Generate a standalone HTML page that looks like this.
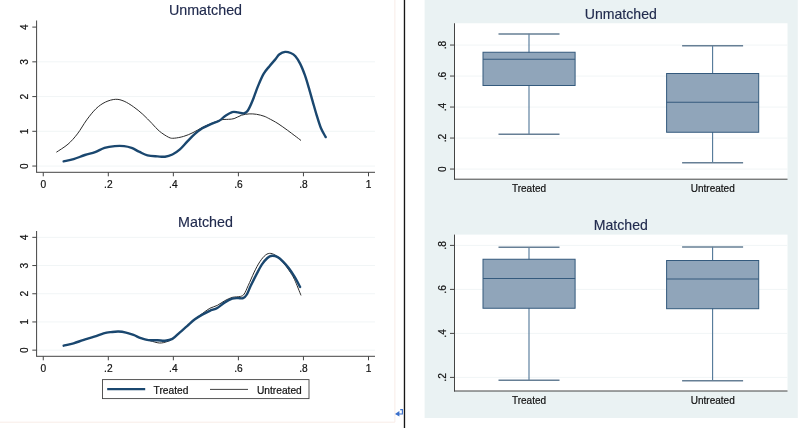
<!DOCTYPE html>
<html><head><meta charset="utf-8"><title>Unmatched Matched</title>
<style>html,body{margin:0;padding:0;background:#fff;overflow:hidden}svg{display:block}</style></head>
<body>
<svg width="800" height="428" viewBox="0 0 800 428">
<rect width="800" height="428" fill="#fff"/>
<path d="M0,422.2 H394.9 V0" fill="none" stroke="#f8ece7" stroke-width="1"/>
<rect x="403.8" y="0" width="1.35" height="428" fill="#151515"/>
<rect x="424.6" y="0" width="373.2" height="418" fill="#eaf2f3"/>
<line x1="37" y1="166.05" x2="375" y2="166.05" stroke="#f1f5f6" stroke-width="1"/>
<line x1="37" y1="131.31" x2="375" y2="131.31" stroke="#f1f5f6" stroke-width="1"/>
<line x1="37" y1="96.58" x2="375" y2="96.58" stroke="#f1f5f6" stroke-width="1"/>
<line x1="37" y1="61.84" x2="375" y2="61.84" stroke="#f1f5f6" stroke-width="1"/>
<line x1="36.6" y1="20.50" x2="36.6" y2="172.30" stroke="#444" stroke-width="1"/>
<line x1="36.1" y1="172.30" x2="375" y2="172.30" stroke="#444" stroke-width="1"/>
<line x1="32.3" y1="166.05" x2="36.6" y2="166.05" stroke="#444" stroke-width="1"/>
<text transform="translate(28,166.05) rotate(-90)" text-anchor="middle" font-size="10.2" fill="#111" stroke="#111" stroke-width="0.2" font-family="Liberation Sans, Arial, sans-serif">0</text>
<line x1="32.3" y1="131.31" x2="36.6" y2="131.31" stroke="#444" stroke-width="1"/>
<text transform="translate(28,131.31) rotate(-90)" text-anchor="middle" font-size="10.2" fill="#111" stroke="#111" stroke-width="0.2" font-family="Liberation Sans, Arial, sans-serif">1</text>
<line x1="32.3" y1="96.58" x2="36.6" y2="96.58" stroke="#444" stroke-width="1"/>
<text transform="translate(28,96.58) rotate(-90)" text-anchor="middle" font-size="10.2" fill="#111" stroke="#111" stroke-width="0.2" font-family="Liberation Sans, Arial, sans-serif">2</text>
<line x1="32.3" y1="61.84" x2="36.6" y2="61.84" stroke="#444" stroke-width="1"/>
<text transform="translate(28,61.84) rotate(-90)" text-anchor="middle" font-size="10.2" fill="#111" stroke="#111" stroke-width="0.2" font-family="Liberation Sans, Arial, sans-serif">3</text>
<line x1="32.3" y1="27.10" x2="36.6" y2="27.10" stroke="#444" stroke-width="1"/>
<text transform="translate(28,27.10) rotate(-90)" text-anchor="middle" font-size="10.2" fill="#111" stroke="#111" stroke-width="0.2" font-family="Liberation Sans, Arial, sans-serif">4</text>
<line x1="43.25" y1="172.30" x2="43.25" y2="176.30" stroke="#444" stroke-width="1"/>
<text x="43.25" y="187.50" text-anchor="middle" font-size="10.2" fill="#111" stroke="#111" stroke-width="0.2" font-family="Liberation Sans, Arial, sans-serif">0</text>
<line x1="108.30" y1="172.30" x2="108.30" y2="176.30" stroke="#444" stroke-width="1"/>
<text x="108.30" y="187.50" text-anchor="middle" font-size="10.2" fill="#111" stroke="#111" stroke-width="0.2" font-family="Liberation Sans, Arial, sans-serif">.2</text>
<line x1="173.35" y1="172.30" x2="173.35" y2="176.30" stroke="#444" stroke-width="1"/>
<text x="173.35" y="187.50" text-anchor="middle" font-size="10.2" fill="#111" stroke="#111" stroke-width="0.2" font-family="Liberation Sans, Arial, sans-serif">.4</text>
<line x1="238.40" y1="172.30" x2="238.40" y2="176.30" stroke="#444" stroke-width="1"/>
<text x="238.40" y="187.50" text-anchor="middle" font-size="10.2" fill="#111" stroke="#111" stroke-width="0.2" font-family="Liberation Sans, Arial, sans-serif">.6</text>
<line x1="303.45" y1="172.30" x2="303.45" y2="176.30" stroke="#444" stroke-width="1"/>
<text x="303.45" y="187.50" text-anchor="middle" font-size="10.2" fill="#111" stroke="#111" stroke-width="0.2" font-family="Liberation Sans, Arial, sans-serif">.8</text>
<line x1="368.50" y1="172.30" x2="368.50" y2="176.30" stroke="#444" stroke-width="1"/>
<text x="368.50" y="187.50" text-anchor="middle" font-size="10.2" fill="#111" stroke="#111" stroke-width="0.2" font-family="Liberation Sans, Arial, sans-serif">1</text>
<text x="205.5" y="15.30" text-anchor="middle" font-size="14.3" stroke="#212b4e" stroke-width="0.15" fill="#212b4e" font-family="Liberation Sans, Arial, sans-serif">Unmatched</text>
<path d="M56.4,152.2C58.3,150.9 64.5,147.2 68.0,144.2C71.5,141.1 74.3,137.9 77.4,133.9C80.5,129.9 83.6,124.1 86.7,119.9C89.8,115.7 92.9,111.7 96.0,108.7C99.1,105.7 102.1,103.7 105.4,102.1C108.7,100.5 112.6,99.4 115.7,99.3C118.8,99.2 121.1,100.0 124.1,101.2C127.1,102.5 130.4,104.6 133.5,106.8C136.6,109.0 139.7,111.5 142.8,114.3C145.9,117.1 149.3,120.8 152.1,123.6C154.8,126.4 156.5,128.8 159.3,131.1C162.1,133.4 166.2,136.1 168.7,137.3C171.2,138.5 171.8,138.3 174.3,138.2C176.8,138.0 180.5,137.3 183.6,136.4C186.7,135.5 189.9,134.1 193.0,132.6C196.1,131.1 199.2,129.0 202.3,127.4C205.4,125.9 208.6,124.5 211.7,123.3C214.8,122.0 218.2,120.6 221.0,119.9C223.8,119.2 226.3,119.5 228.5,119.3C230.7,119.1 231.9,119.3 234.1,118.6C236.3,117.9 239.1,116.0 241.6,115.2C244.1,114.4 246.6,114.1 249.1,113.9C251.6,113.8 254.0,113.9 256.5,114.3C259.0,114.7 262.0,115.5 264.0,116.2C266.0,116.9 266.4,117.2 268.7,118.4C271.0,119.6 274.9,121.6 278.0,123.6C281.1,125.6 284.6,128.2 287.4,130.2C290.2,132.2 292.6,134.1 294.9,135.8C297.2,137.5 300.0,139.7 301.0,140.5" fill="none" stroke="#2b2b2b" stroke-width="1"/>
<path d="M63.7,161.4C65.3,161.0 70.1,160.3 73.6,159.2C77.1,158.1 81.3,156.2 84.9,155.0C88.5,153.8 91.8,153.4 95.1,152.2C98.4,151.0 101.2,148.9 104.5,147.9C107.8,146.9 111.5,146.4 114.8,146.1C118.1,145.8 121.3,145.8 124.1,146.1C126.9,146.4 129.1,147.0 131.6,147.9C134.1,148.8 136.4,150.4 139.1,151.7C141.8,152.9 144.4,154.6 147.5,155.4C150.6,156.2 154.6,156.2 157.5,156.4C160.4,156.6 162.5,157.0 165.0,156.7C167.5,156.4 169.9,155.7 172.4,154.5C174.9,153.3 177.4,151.6 179.9,149.4C182.4,147.2 184.9,144.0 187.4,141.4C189.9,138.8 192.4,136.1 194.9,133.9C197.4,131.7 199.8,129.9 202.3,128.3C204.8,126.8 207.0,125.8 209.8,124.6C212.6,123.3 216.7,122.2 219.2,120.8C221.7,119.4 222.6,117.7 224.8,116.2C227.0,114.8 230.0,112.7 232.2,112.1C234.4,111.5 236.0,112.2 237.9,112.4C239.8,112.6 241.9,113.6 243.5,113.4C245.1,113.2 246.0,113.1 247.5,111.0C249.0,108.9 250.7,105.2 252.4,101.0C254.2,96.8 256.1,90.6 258.0,86.1C259.9,81.6 261.7,77.2 263.6,73.9C265.5,70.6 267.4,68.7 269.3,66.4C271.2,64.1 273.2,61.9 274.9,59.9C276.6,57.9 277.8,55.6 279.5,54.3C281.2,53.0 283.2,52.1 285.1,51.9C287.0,51.7 289.0,52.3 290.7,53.0C292.4,53.7 293.8,54.4 295.4,56.2C297.0,58.0 298.5,60.5 300.1,63.6C301.7,66.7 303.2,70.5 304.8,74.9C306.4,79.3 308.1,85.4 309.4,89.8C310.7,94.2 311.4,97.1 312.6,101.2C313.8,105.3 315.0,109.8 316.4,114.3C317.8,118.8 319.4,124.5 321.0,128.3C322.6,132.1 324.9,135.6 325.7,137.1" fill="none" stroke="#1a476f" stroke-width="2.4" stroke-linecap="round" stroke-linejoin="round"/>
<line x1="37" y1="350.15" x2="375" y2="350.15" stroke="#f1f5f6" stroke-width="1"/>
<line x1="37" y1="321.95" x2="375" y2="321.95" stroke="#f1f5f6" stroke-width="1"/>
<line x1="37" y1="293.75" x2="375" y2="293.75" stroke="#f1f5f6" stroke-width="1"/>
<line x1="37" y1="265.55" x2="375" y2="265.55" stroke="#f1f5f6" stroke-width="1"/>
<line x1="37" y1="237.35" x2="375" y2="237.35" stroke="#f1f5f6" stroke-width="1"/>
<line x1="36.6" y1="231.00" x2="36.6" y2="356.30" stroke="#444" stroke-width="1"/>
<line x1="36.1" y1="356.30" x2="375" y2="356.30" stroke="#444" stroke-width="1"/>
<line x1="32.3" y1="350.15" x2="36.6" y2="350.15" stroke="#444" stroke-width="1"/>
<text transform="translate(28,350.15) rotate(-90)" text-anchor="middle" font-size="10.2" fill="#111" stroke="#111" stroke-width="0.2" font-family="Liberation Sans, Arial, sans-serif">0</text>
<line x1="32.3" y1="321.95" x2="36.6" y2="321.95" stroke="#444" stroke-width="1"/>
<text transform="translate(28,321.95) rotate(-90)" text-anchor="middle" font-size="10.2" fill="#111" stroke="#111" stroke-width="0.2" font-family="Liberation Sans, Arial, sans-serif">1</text>
<line x1="32.3" y1="293.75" x2="36.6" y2="293.75" stroke="#444" stroke-width="1"/>
<text transform="translate(28,293.75) rotate(-90)" text-anchor="middle" font-size="10.2" fill="#111" stroke="#111" stroke-width="0.2" font-family="Liberation Sans, Arial, sans-serif">2</text>
<line x1="32.3" y1="265.55" x2="36.6" y2="265.55" stroke="#444" stroke-width="1"/>
<text transform="translate(28,265.55) rotate(-90)" text-anchor="middle" font-size="10.2" fill="#111" stroke="#111" stroke-width="0.2" font-family="Liberation Sans, Arial, sans-serif">3</text>
<line x1="32.3" y1="237.35" x2="36.6" y2="237.35" stroke="#444" stroke-width="1"/>
<text transform="translate(28,237.35) rotate(-90)" text-anchor="middle" font-size="10.2" fill="#111" stroke="#111" stroke-width="0.2" font-family="Liberation Sans, Arial, sans-serif">4</text>
<line x1="43.25" y1="356.30" x2="43.25" y2="360.30" stroke="#444" stroke-width="1"/>
<text x="43.25" y="371.50" text-anchor="middle" font-size="10.2" fill="#111" stroke="#111" stroke-width="0.2" font-family="Liberation Sans, Arial, sans-serif">0</text>
<line x1="108.30" y1="356.30" x2="108.30" y2="360.30" stroke="#444" stroke-width="1"/>
<text x="108.30" y="371.50" text-anchor="middle" font-size="10.2" fill="#111" stroke="#111" stroke-width="0.2" font-family="Liberation Sans, Arial, sans-serif">.2</text>
<line x1="173.35" y1="356.30" x2="173.35" y2="360.30" stroke="#444" stroke-width="1"/>
<text x="173.35" y="371.50" text-anchor="middle" font-size="10.2" fill="#111" stroke="#111" stroke-width="0.2" font-family="Liberation Sans, Arial, sans-serif">.4</text>
<line x1="238.40" y1="356.30" x2="238.40" y2="360.30" stroke="#444" stroke-width="1"/>
<text x="238.40" y="371.50" text-anchor="middle" font-size="10.2" fill="#111" stroke="#111" stroke-width="0.2" font-family="Liberation Sans, Arial, sans-serif">.6</text>
<line x1="303.45" y1="356.30" x2="303.45" y2="360.30" stroke="#444" stroke-width="1"/>
<text x="303.45" y="371.50" text-anchor="middle" font-size="10.2" fill="#111" stroke="#111" stroke-width="0.2" font-family="Liberation Sans, Arial, sans-serif">.8</text>
<line x1="368.50" y1="356.30" x2="368.50" y2="360.30" stroke="#444" stroke-width="1"/>
<text x="368.50" y="371.50" text-anchor="middle" font-size="10.2" fill="#111" stroke="#111" stroke-width="0.2" font-family="Liberation Sans, Arial, sans-serif">1</text>
<text x="205.5" y="226.60" text-anchor="middle" font-size="14.3" stroke="#212b4e" stroke-width="0.15" fill="#212b4e" font-family="Liberation Sans, Arial, sans-serif">Matched</text>
<path d="M63.7,345.7C65.3,345.3 70.4,344.2 73.6,343.3C76.8,342.4 79.6,341.2 83.0,340.1C86.4,339.0 90.8,337.8 94.2,336.7C97.6,335.6 100.8,334.2 103.6,333.4C106.4,332.6 108.5,332.4 111.0,332.1C113.5,331.8 116.0,331.4 118.5,331.5C121.0,331.6 123.5,332.0 126.0,332.6C128.5,333.2 131.0,334.0 133.5,334.9C136.0,335.8 138.2,337.2 140.9,338.2C143.7,339.2 146.9,339.9 150.0,340.7C153.1,341.5 156.5,342.8 159.3,343.0C162.1,343.2 164.6,342.4 166.8,341.7C169.0,341.0 170.2,340.5 172.4,338.9C174.6,337.3 177.4,334.5 179.9,332.3C182.4,330.1 184.9,328.0 187.4,325.8C189.9,323.6 192.4,321.3 194.9,319.3C197.4,317.3 199.8,315.4 202.3,313.6C204.8,311.8 207.3,309.7 209.8,308.3C212.3,306.9 214.8,306.7 217.3,305.4C219.8,304.1 222.3,302.0 224.8,300.7C227.3,299.4 229.6,298.1 232.2,297.4C234.8,296.7 238.6,297.0 240.6,296.4C242.6,295.8 242.9,295.8 244.2,294.0C245.5,292.2 246.5,289.2 248.2,285.6C249.9,282.0 252.3,276.1 254.2,272.1C256.1,268.1 257.9,264.7 259.8,261.8C261.7,258.9 263.8,256.4 265.6,255.0C267.4,253.6 269.0,253.2 270.8,253.4C272.6,253.6 274.6,254.6 276.7,256.2C278.8,257.8 281.3,260.4 283.3,262.7C285.3,265.0 287.0,267.4 288.9,270.2C290.8,273.0 292.5,275.3 294.5,279.5C296.5,283.7 299.9,292.8 301.0,295.4" fill="none" stroke="#2b2b2b" stroke-width="1"/>
<path d="M63.7,345.7C65.3,345.3 70.4,344.2 73.6,343.3C76.8,342.4 79.6,341.2 83.0,340.1C86.4,339.0 90.8,337.8 94.2,336.7C97.6,335.6 100.8,334.2 103.6,333.4C106.4,332.6 108.5,332.4 111.0,332.1C113.5,331.8 116.0,331.4 118.5,331.5C121.0,331.6 123.5,332.0 126.0,332.6C128.5,333.2 131.0,334.0 133.5,334.9C136.0,335.8 138.4,337.3 140.9,338.2C143.4,339.1 145.6,339.8 148.4,340.1C151.2,340.4 154.7,340.1 157.5,340.2C160.3,340.3 162.5,340.9 165.0,340.7C167.5,340.5 169.9,340.3 172.4,338.9C174.9,337.5 177.4,334.5 179.9,332.3C182.4,330.1 184.9,328.0 187.4,325.8C189.9,323.6 192.4,321.2 194.9,319.3C197.4,317.4 199.8,316.0 202.3,314.6C204.8,313.2 207.3,311.9 209.8,310.8C212.3,309.7 214.8,309.4 217.3,308.0C219.8,306.6 222.3,303.9 224.8,302.4C227.3,300.8 230.0,299.4 232.2,298.7C234.4,298.0 236.1,298.2 237.9,298.1C239.7,298.0 241.6,298.8 243.1,298.2C244.6,297.6 245.6,296.5 246.8,294.5C248.1,292.5 249.0,289.4 250.6,286.1C252.2,282.8 254.3,278.5 256.2,274.9C258.1,271.3 259.9,267.4 261.8,264.6C263.7,261.8 265.7,259.5 267.4,258.0C269.1,256.5 270.4,256.0 272.1,255.8C273.8,255.7 275.8,256.1 277.7,257.1C279.6,258.1 281.4,259.9 283.3,261.8C285.2,263.7 287.0,265.8 288.9,268.3C290.8,270.8 292.6,273.6 294.5,276.7C296.4,279.8 299.2,285.3 300.1,287.0" fill="none" stroke="#1a476f" stroke-width="2.4" stroke-linecap="round" stroke-linejoin="round"/>
<rect x="102.5" y="379.6" width="206.5" height="19" fill="#fff" stroke="#444" stroke-width="0.9"/>
<line x1="107.2" y1="389.1" x2="145.2" y2="389.1" stroke="#1a476f" stroke-width="2.3"/>
<line x1="210" y1="389.4" x2="248" y2="389.4" stroke="#2b2b2b" stroke-width="0.9"/>
<text x="153.6" y="393.7" font-size="10.2" fill="#111" stroke="#111" stroke-width="0.2" font-family="Liberation Sans, Arial, sans-serif">Treated</text>
<text x="257" y="393.7" font-size="10.2" fill="#111" stroke="#111" stroke-width="0.2" font-family="Liberation Sans, Arial, sans-serif">Untreated</text>
<g stroke="#3a6fcb" fill="none" stroke-width="1.1"><path d="M398,414 H402.4 V409.6 H400.2"/></g><path d="M395,413.9 L399.4,411 V416.6 Z" fill="#3a6fcb"/>
<rect x="454.5" y="23.25" width="333" height="155.95" fill="#fff"/>
<line x1="454.5" y1="169.05" x2="787.5" y2="169.05" stroke="#f1f5f6" stroke-width="1"/>
<line x1="454.5" y1="138.05" x2="787.5" y2="138.05" stroke="#f1f5f6" stroke-width="1"/>
<line x1="454.5" y1="107.05" x2="787.5" y2="107.05" stroke="#f1f5f6" stroke-width="1"/>
<line x1="454.5" y1="76.05" x2="787.5" y2="76.05" stroke="#f1f5f6" stroke-width="1"/>
<line x1="454.5" y1="45.05" x2="787.5" y2="45.05" stroke="#f1f5f6" stroke-width="1"/>
<line x1="529.00" y1="33.75" x2="529.00" y2="134.00" stroke="#4f7697" stroke-width="1.1"/>
<line x1="498.50" y1="34.05" x2="559.50" y2="34.05" stroke="#667f95" stroke-width="1.4"/>
<line x1="498.50" y1="134.30" x2="559.50" y2="134.30" stroke="#667f95" stroke-width="1.4"/>
<rect x="483.00" y="52.25" width="92.10" height="33.25" fill="#90a5ba" stroke="#345a7d" stroke-width="1"/>
<line x1="483.00" y1="59.25" x2="575.10" y2="59.25" stroke="#345a7d" stroke-width="1.1"/>
<line x1="712.60" y1="45.50" x2="712.60" y2="162.50" stroke="#4f7697" stroke-width="1.1"/>
<line x1="682.10" y1="45.80" x2="743.10" y2="45.80" stroke="#667f95" stroke-width="1.4"/>
<line x1="682.10" y1="162.80" x2="743.10" y2="162.80" stroke="#667f95" stroke-width="1.4"/>
<rect x="666.60" y="73.50" width="92.10" height="58.75" fill="#90a5ba" stroke="#345a7d" stroke-width="1"/>
<line x1="666.60" y1="102.25" x2="758.70" y2="102.25" stroke="#345a7d" stroke-width="1.1"/>
<line x1="454.5" y1="23.25" x2="454.5" y2="179.70" stroke="#444" stroke-width="1"/>
<line x1="454" y1="179.20" x2="787.5" y2="179.20" stroke="#444" stroke-width="1"/>
<line x1="450" y1="169.05" x2="454.5" y2="169.05" stroke="#444" stroke-width="1"/>
<text transform="translate(446.3,169.05) rotate(-90)" text-anchor="middle" font-size="10.2" fill="#111" stroke="#111" stroke-width="0.2" font-family="Liberation Sans, Arial, sans-serif">0</text>
<line x1="450" y1="138.05" x2="454.5" y2="138.05" stroke="#444" stroke-width="1"/>
<text transform="translate(446.3,138.05) rotate(-90)" text-anchor="middle" font-size="10.2" fill="#111" stroke="#111" stroke-width="0.2" font-family="Liberation Sans, Arial, sans-serif">.2</text>
<line x1="450" y1="107.05" x2="454.5" y2="107.05" stroke="#444" stroke-width="1"/>
<text transform="translate(446.3,107.05) rotate(-90)" text-anchor="middle" font-size="10.2" fill="#111" stroke="#111" stroke-width="0.2" font-family="Liberation Sans, Arial, sans-serif">.4</text>
<line x1="450" y1="76.05" x2="454.5" y2="76.05" stroke="#444" stroke-width="1"/>
<text transform="translate(446.3,76.05) rotate(-90)" text-anchor="middle" font-size="10.2" fill="#111" stroke="#111" stroke-width="0.2" font-family="Liberation Sans, Arial, sans-serif">.6</text>
<line x1="450" y1="45.05" x2="454.5" y2="45.05" stroke="#444" stroke-width="1"/>
<text transform="translate(446.3,45.05) rotate(-90)" text-anchor="middle" font-size="10.2" fill="#111" stroke="#111" stroke-width="0.2" font-family="Liberation Sans, Arial, sans-serif">.8</text>
<text x="620.8" y="19.00" text-anchor="middle" font-size="14.1" stroke="#212b4e" stroke-width="0.15" fill="#212b4e" font-family="Liberation Sans, Arial, sans-serif">Unmatched</text>
<text x="529" y="191.50" text-anchor="middle" font-size="10" fill="#111" stroke="#111" stroke-width="0.2" font-family="Liberation Sans, Arial, sans-serif">Treated</text>
<text x="712.75" y="191.50" text-anchor="middle" font-size="10" fill="#111" stroke="#111" stroke-width="0.2" font-family="Liberation Sans, Arial, sans-serif">Untreated</text>
<rect x="454.5" y="234.60" width="333" height="156.40" fill="#fff"/>
<line x1="454.5" y1="377.40" x2="787.5" y2="377.40" stroke="#f1f5f6" stroke-width="1"/>
<line x1="454.5" y1="333.40" x2="787.5" y2="333.40" stroke="#f1f5f6" stroke-width="1"/>
<line x1="454.5" y1="289.40" x2="787.5" y2="289.40" stroke="#f1f5f6" stroke-width="1"/>
<line x1="454.5" y1="245.40" x2="787.5" y2="245.40" stroke="#f1f5f6" stroke-width="1"/>
<line x1="529.00" y1="247.00" x2="529.00" y2="380.00" stroke="#4f7697" stroke-width="1.1"/>
<line x1="498.50" y1="247.30" x2="559.50" y2="247.30" stroke="#667f95" stroke-width="1.4"/>
<line x1="498.50" y1="380.30" x2="559.50" y2="380.30" stroke="#667f95" stroke-width="1.4"/>
<rect x="483.00" y="259.25" width="92.10" height="49.00" fill="#90a5ba" stroke="#345a7d" stroke-width="1"/>
<line x1="483.00" y1="278.50" x2="575.10" y2="278.50" stroke="#345a7d" stroke-width="1.1"/>
<line x1="712.60" y1="246.75" x2="712.60" y2="380.50" stroke="#4f7697" stroke-width="1.1"/>
<line x1="682.10" y1="247.05" x2="743.10" y2="247.05" stroke="#667f95" stroke-width="1.4"/>
<line x1="682.10" y1="380.80" x2="743.10" y2="380.80" stroke="#667f95" stroke-width="1.4"/>
<rect x="666.60" y="260.50" width="92.10" height="48.20" fill="#90a5ba" stroke="#345a7d" stroke-width="1"/>
<line x1="666.60" y1="279.00" x2="758.70" y2="279.00" stroke="#345a7d" stroke-width="1.1"/>
<line x1="454.5" y1="234.60" x2="454.5" y2="391.50" stroke="#444" stroke-width="1"/>
<line x1="454" y1="391.00" x2="787.5" y2="391.00" stroke="#444" stroke-width="1"/>
<line x1="450" y1="377.40" x2="454.5" y2="377.40" stroke="#444" stroke-width="1"/>
<text transform="translate(446.3,377.40) rotate(-90)" text-anchor="middle" font-size="10.2" fill="#111" stroke="#111" stroke-width="0.2" font-family="Liberation Sans, Arial, sans-serif">.2</text>
<line x1="450" y1="333.40" x2="454.5" y2="333.40" stroke="#444" stroke-width="1"/>
<text transform="translate(446.3,333.40) rotate(-90)" text-anchor="middle" font-size="10.2" fill="#111" stroke="#111" stroke-width="0.2" font-family="Liberation Sans, Arial, sans-serif">.4</text>
<line x1="450" y1="289.40" x2="454.5" y2="289.40" stroke="#444" stroke-width="1"/>
<text transform="translate(446.3,289.40) rotate(-90)" text-anchor="middle" font-size="10.2" fill="#111" stroke="#111" stroke-width="0.2" font-family="Liberation Sans, Arial, sans-serif">.6</text>
<line x1="450" y1="245.40" x2="454.5" y2="245.40" stroke="#444" stroke-width="1"/>
<text transform="translate(446.3,245.40) rotate(-90)" text-anchor="middle" font-size="10.2" fill="#111" stroke="#111" stroke-width="0.2" font-family="Liberation Sans, Arial, sans-serif">.8</text>
<text x="620.8" y="230.30" text-anchor="middle" font-size="14.1" stroke="#212b4e" stroke-width="0.15" fill="#212b4e" font-family="Liberation Sans, Arial, sans-serif">Matched</text>
<text x="529" y="403.50" text-anchor="middle" font-size="10" fill="#111" stroke="#111" stroke-width="0.2" font-family="Liberation Sans, Arial, sans-serif">Treated</text>
<text x="712.75" y="403.50" text-anchor="middle" font-size="10" fill="#111" stroke="#111" stroke-width="0.2" font-family="Liberation Sans, Arial, sans-serif">Untreated</text>
</svg>
</body></html>
